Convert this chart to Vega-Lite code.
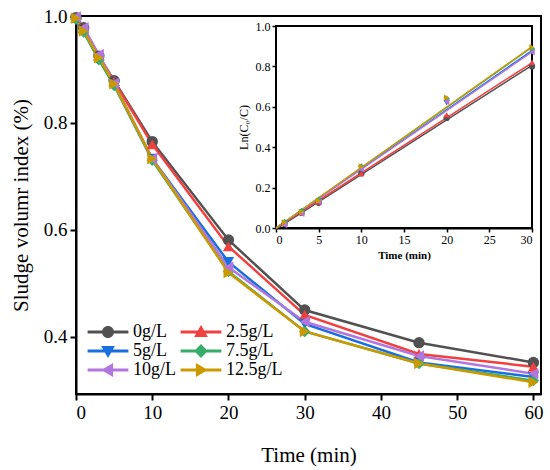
{
  "$schema": "https://vega.github.io/schema/vega-lite/v6.json",
  "width": 465,
  "height": 378,
  "autosize": "none",
  "padding": {"left": 76, "top": 16, "right": 9, "bottom": 76},
  "config": {
    "view": {"stroke": "black", "strokeWidth": 2},
    "font": "Liberation Serif",
    "axis": {
      "grid": false,
      "labelFont": "Liberation Serif",
      "titleFont": "Liberation Serif",
      "labelColor": "black",
      "titleColor": "black",
      "domainColor": "black",
      "tickColor": "black"
    },
    "legend": {"labelFont": "Liberation Serif", "labelColor": "black"}
  },
  "datasets": {
    "svi": [
      {"t": 0, "conc": "0g/L", "svi": 0.997}, {"t": 1, "conc": "0g/L", "svi": 0.978}, {"t": 3, "conc": "0g/L", "svi": 0.925}, {"t": 5, "conc": "0g/L", "svi": 0.879}, {"t": 10, "conc": "0g/L", "svi": 0.765}, {"t": 20, "conc": "0g/L", "svi": 0.581}, {"t": 30, "conc": "0g/L", "svi": 0.45}, {"t": 45, "conc": "0g/L", "svi": 0.389}, {"t": 60, "conc": "0g/L", "svi": 0.352},
      {"t": 0, "conc": "2.5g/L", "svi": 0.997}, {"t": 1, "conc": "2.5g/L", "svi": 0.977}, {"t": 3, "conc": "2.5g/L", "svi": 0.925}, {"t": 5, "conc": "2.5g/L", "svi": 0.878}, {"t": 10, "conc": "2.5g/L", "svi": 0.76}, {"t": 20, "conc": "2.5g/L", "svi": 0.569}, {"t": 30, "conc": "2.5g/L", "svi": 0.441}, {"t": 45, "conc": "2.5g/L", "svi": 0.368}, {"t": 60, "conc": "2.5g/L", "svi": 0.344},
      {"t": 0, "conc": "5g/L", "svi": 0.994}, {"t": 1, "conc": "5g/L", "svi": 0.971}, {"t": 3, "conc": "5g/L", "svi": 0.92}, {"t": 5, "conc": "5g/L", "svi": 0.872}, {"t": 10, "conc": "5g/L", "svi": 0.733}, {"t": 20, "conc": "5g/L", "svi": 0.54}, {"t": 30, "conc": "5g/L", "svi": 0.424}, {"t": 45, "conc": "5g/L", "svi": 0.352}, {"t": 60, "conc": "5g/L", "svi": 0.325},
      {"t": 0, "conc": "7.5g/L", "svi": 0.994}, {"t": 1, "conc": "7.5g/L", "svi": 0.97}, {"t": 3, "conc": "7.5g/L", "svi": 0.918}, {"t": 5, "conc": "7.5g/L", "svi": 0.87}, {"t": 10, "conc": "7.5g/L", "svi": 0.73}, {"t": 20, "conc": "7.5g/L", "svi": 0.522}, {"t": 30, "conc": "7.5g/L", "svi": 0.41}, {"t": 45, "conc": "7.5g/L", "svi": 0.35}, {"t": 60, "conc": "7.5g/L", "svi": 0.318},
      {"t": 0, "conc": "10g/L", "svi": 0.998}, {"t": 1, "conc": "10g/L", "svi": 0.978}, {"t": 3, "conc": "10g/L", "svi": 0.928}, {"t": 5, "conc": "10g/L", "svi": 0.874}, {"t": 10, "conc": "10g/L", "svi": 0.733}, {"t": 20, "conc": "10g/L", "svi": 0.53}, {"t": 30, "conc": "10g/L", "svi": 0.428}, {"t": 45, "conc": "10g/L", "svi": 0.364}, {"t": 60, "conc": "10g/L", "svi": 0.331},
      {"t": 0, "conc": "12.5g/L", "svi": 0.996}, {"t": 1, "conc": "12.5g/L", "svi": 0.972}, {"t": 3, "conc": "12.5g/L", "svi": 0.922}, {"t": 5, "conc": "12.5g/L", "svi": 0.873}, {"t": 10, "conc": "12.5g/L", "svi": 0.733}, {"t": 20, "conc": "12.5g/L", "svi": 0.52}, {"t": 30, "conc": "12.5g/L", "svi": 0.41}, {"t": 45, "conc": "12.5g/L", "svi": 0.35}, {"t": 60, "conc": "12.5g/L", "svi": 0.315}
    ],
    "kin": [
      {"t": 1, "conc": "0g/L", "ln": 0.02}, {"t": 3, "conc": "0g/L", "ln": 0.075}, {"t": 5, "conc": "0g/L", "ln": 0.125}, {"t": 10, "conc": "0g/L", "ln": 0.27}, {"t": 20, "conc": "0g/L", "ln": 0.545}, {"t": 30, "conc": "0g/L", "ln": 0.8},
      {"t": 1, "conc": "2.5g/L", "ln": 0.022}, {"t": 3, "conc": "2.5g/L", "ln": 0.075}, {"t": 5, "conc": "2.5g/L", "ln": 0.13}, {"t": 10, "conc": "2.5g/L", "ln": 0.27}, {"t": 20, "conc": "2.5g/L", "ln": 0.56}, {"t": 30, "conc": "2.5g/L", "ln": 0.82},
      {"t": 1, "conc": "5g/L", "ln": 0.025}, {"t": 3, "conc": "5g/L", "ln": 0.08}, {"t": 5, "conc": "5g/L", "ln": 0.135}, {"t": 10, "conc": "5g/L", "ln": 0.295}, {"t": 20, "conc": "5g/L", "ln": 0.62}, {"t": 30, "conc": "5g/L", "ln": 0.875},
      {"t": 1, "conc": "7.5g/L", "ln": 0.03}, {"t": 3, "conc": "7.5g/L", "ln": 0.085}, {"t": 5, "conc": "7.5g/L", "ln": 0.14}, {"t": 10, "conc": "7.5g/L", "ln": 0.305}, {"t": 20, "conc": "7.5g/L", "ln": 0.64}, {"t": 30, "conc": "7.5g/L", "ln": 0.885},
      {"t": 1, "conc": "10g/L", "ln": 0.015}, {"t": 3, "conc": "10g/L", "ln": 0.07}, {"t": 5, "conc": "10g/L", "ln": 0.13}, {"t": 10, "conc": "10g/L", "ln": 0.29}, {"t": 20, "conc": "10g/L", "ln": 0.625}, {"t": 30, "conc": "10g/L", "ln": 0.87},
      {"t": 1, "conc": "12.5g/L", "ln": 0.028}, {"t": 3, "conc": "12.5g/L", "ln": 0.08}, {"t": 5, "conc": "12.5g/L", "ln": 0.135}, {"t": 10, "conc": "12.5g/L", "ln": 0.305}, {"t": 20, "conc": "12.5g/L", "ln": 0.645}, {"t": 30, "conc": "12.5g/L", "ln": 0.895}
    ],
    "fit": [
      {"t": 0, "conc": "0g/L", "ln": -0.005}, {"t": 30, "conc": "0g/L", "ln": 0.805},
      {"t": 0, "conc": "2.5g/L", "ln": 0.0}, {"t": 30, "conc": "2.5g/L", "ln": 0.818},
      {"t": 0, "conc": "5g/L", "ln": 0.0}, {"t": 30, "conc": "5g/L", "ln": 0.878},
      {"t": 0, "conc": "7.5g/L", "ln": 0.0}, {"t": 30, "conc": "7.5g/L", "ln": 0.895},
      {"t": 0, "conc": "10g/L", "ln": 0.0}, {"t": 30, "conc": "10g/L", "ln": 0.872},
      {"t": 0, "conc": "12.5g/L", "ln": 0.0}, {"t": 30, "conc": "12.5g/L", "ln": 0.898}
    ],
    "frame": [{"t0": 0, "t1": 30, "v0": 0, "v1": 1}]
  },
  "layer": [
    {
      "data": {"name": "svi"},
      "encoding": {
        "x": {
          "field": "t", "type": "quantitative",
          "scale": {"domain": [0, 61], "nice": false},
          "axis": {
            "title": "Time (min)", "values": [0, 10, 20, 30, 40, 50, 60],
            "labelFont": "Liberation Serif", "titleFont": "Liberation Serif",
            "labelFontSize": 19, "titleFontSize": 21, "titleFontWeight": "normal",
            "domainWidth": 2, "tickWidth": 2, "tickSize": 6, "labelPadding": 3, "titlePadding": 22
          }
        },
        "y": {
          "field": "svi", "type": "quantitative",
          "scale": {"domain": [0.293, 1.0], "nice": false, "zero": false},
          "axis": {
            "title": "Sludge volumr index (%)", "values": [0.4, 0.6, 0.8, 1.0], "format": ".1f",
            "labelFont": "Liberation Serif", "titleFont": "Liberation Serif",
            "labelFontSize": 19, "titleFontSize": 21, "titleFontWeight": "normal",
            "domainWidth": 2, "tickWidth": 2, "tickSize": 6, "labelPadding": 3, "titlePadding": 12
          }
        },
        "color": {
          "field": "conc", "type": "nominal",
          "scale": {
            "domain": ["0g/L", "5g/L", "10g/L", "2.5g/L", "7.5g/L", "12.5g/L"],
            "range": ["#515151", "#1A6FDF", "#B177DE", "#F14040", "#37AD6B", "#CC9900"]
          },
          "legend": {
            "title": null, "orient": "none", "legendX": 23, "legendY": 307,
            "columns": 2, "columnPadding": 4, "rowPadding": 1,
            "labelFont": "Liberation Serif", "labelFontSize": 18, "labelOffset": 16, "symbolSize": 144,
            "symbolStrokeWidth": 0, "padding": 0,
            "encoding": {
              "symbols": {
                "fillOpacity": {"value": 1},
                "opacity": {"value": 1},
                "size": {"value": 144},
                "shape": {"value": {"expr": "datum.value === '0g/L' ? 'M-3.4,-0.25H3.4V0.25H-3.4Z M1,0A1,1,0,1,1,-1,0A1,1,0,1,1,1,0Z' : datum.value === '2.5g/L' ? 'M-3.4,-0.25H3.4V0.25H-3.4Z M0,-1.15L1.15,0.85L-1.15,0.85Z' : datum.value === '5g/L' ? 'M-3.4,-0.25H3.4V0.25H-3.4Z M0,1.15L-1.15,-0.85L1.15,-0.85Z' : datum.value === '7.5g/L' ? 'M-3.4,-0.25H3.4V0.25H-3.4Z M0,-1.15L1.15,0L0,1.15L-1.15,0Z' : datum.value === '10g/L' ? 'M-3.4,-0.25H3.4V0.25H-3.4Z M-1.15,0L0.85,-1.15L0.85,1.15Z' : 'M-3.4,-0.25H3.4V0.25H-3.4Z M1.15,0L-0.85,1.15L-0.85,-1.15Z'"}}
              }
            }
          }
        }
      },
      "layer": [
        {"mark": {"type": "line", "strokeWidth": 2.5}},
        {
          "mark": {"type": "point", "filled": true, "opacity": 1, "size": 130},
          "encoding": {
            "shape": {
              "field": "conc", "type": "nominal",
              "scale": {
                "domain": ["0g/L", "2.5g/L", "5g/L", "7.5g/L", "10g/L", "12.5g/L"],
                "range": ["circle", "triangle-up", "triangle-down", "diamond", "triangle-left", "triangle-right"]
              },
              "legend": null
            }
          }
        }
      ]
    },
    {
      "encoding": {
        "x": {
          "field": "t", "type": "quantitative",
          "scale": {"domain": [0, 30], "nice": false, "range": [200, 456]},
          "axis": {
            "orient": "bottom", "offset": -166, "title": "Time (min)",
            "values": [0, 5, 10, 15, 20, 25, 30],
            "labelFont": "Liberation Serif", "titleFont": "Liberation Serif",
            "labelFontSize": 12, "titleFontSize": 11, "titleFontWeight": "bold",
            "domainWidth": 2, "tickWidth": 1.5, "tickSize": 4, "labelPadding": 2, "titlePadding": 4
          }
        },
        "y": {
          "field": "ln", "type": "quantitative",
          "scale": {"domain": [0, 1], "nice": false, "range": [212, 10]},
          "axis": {
            "orient": "left", "offset": -200, "title": "Ln(C₀/C)",
            "values": [0, 0.2, 0.4, 0.6, 0.8, 1.0], "format": ".1f",
            "labelFont": "Liberation Serif", "titleFont": "Liberation Serif",
            "labelFontSize": 12, "titleFontSize": 12, "titleFontWeight": "normal",
            "domainWidth": 2, "tickWidth": 1.5, "tickSize": 4, "labelPadding": 2, "titlePadding": 5
          }
        }
      },
      "layer": [
        {
          "data": {"name": "frame"},
          "mark": {"type": "rect", "fill": "white", "stroke": "black", "strokeWidth": 2},
          "encoding": {
            "x": {"field": "t0", "type": "quantitative"},
            "x2": {"field": "t1"},
            "y": {"field": "v0", "type": "quantitative"},
            "y2": {"field": "v1"}
          }
        },
        {
          "data": {"name": "fit"},
          "mark": {"type": "line", "strokeWidth": 1.5},
          "encoding": {
            "color": {"field": "conc", "type": "nominal", "legend": null}
          }
        },
        {
          "data": {"name": "kin"},
          "mark": {"type": "point", "filled": true, "opacity": 1, "size": 40},
          "encoding": {
            "color": {"field": "conc", "type": "nominal", "legend": null},
            "shape": {"field": "conc", "type": "nominal", "legend": null}
          }
        }
      ]
    }
  ],
  "resolve": {"scale": {"x": "independent", "y": "independent"}}
}
